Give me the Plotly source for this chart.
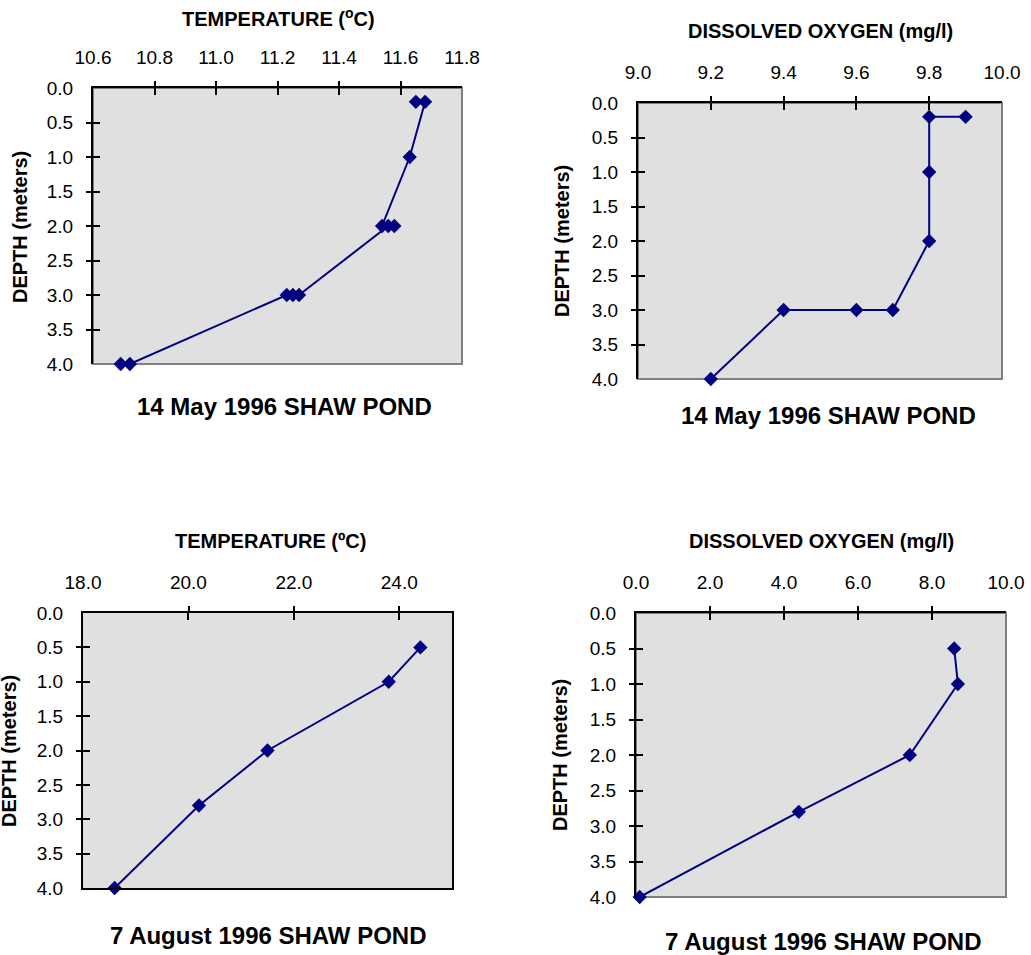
import plotly.graph_objects as go

W, H = 1031, 955

# ---- data ----
may_temp_depth = [0.2, 0.2, 1.0, 2.0, 2.0, 2.0, 3.0, 3.0, 3.0, 4.0, 4.0]
may_temp = [11.65, 11.68, 11.63, 11.54, 11.58, 11.56, 11.27, 11.25, 11.23, 10.72, 10.69]

may_do_depth = [0.2, 0.2, 1.0, 2.0, 3.0, 3.0, 3.0, 4.0]
may_do = [9.9, 9.8, 9.8, 9.8, 9.7, 9.6, 9.4, 9.2]

aug_temp_depth = [0.5, 1.0, 2.0, 2.8, 4.0]
aug_temp = [24.4, 23.8, 21.5, 20.2, 18.6]

aug_do_depth = [0.5, 1.0, 2.0, 2.8, 4.0]
aug_do = [8.6, 8.7, 7.4, 4.4, 0.1]

chart_titles = ["14 May 1996 SHAW POND", "14 May 1996 SHAW POND",
                "7 August 1996 SHAW POND", "7 August 1996 SHAW POND"]
x_titles = ["TEMPERATURE (<sup>o</sup>C)", "DISSOLVED OXYGEN (mg/l)",
            "TEMPERATURE (ºC)", "DISSOLVED OXYGEN (mg/l)"]
y_title = "DEPTH (meters)"

NAVY = "#000080"
FONT = "Liberation Sans, Arial, sans-serif"

def px(x):
    return x / W

def py(y):
    return 1 - y / H

# plot areas in pixels: (left, right, top, bottom)
areas = [(93, 462, 88, 364), (638, 1002, 103, 379), (83, 452, 613, 888), (636, 1006, 613, 897)]
xranges = [[10.6, 11.8], [9.0, 10.0], [18.0, 25.0], [0.0, 10.0]]
xdticks = [0.2, 0.2, 2.0, 2.0]
series = [(may_temp, may_temp_depth), (may_do, may_do_depth),
          (aug_temp, aug_temp_depth), (aug_do, aug_do_depth)]

fig = go.Figure()
layout = dict(
    width=W, height=H, margin=dict(l=0, r=0, t=0, b=0, autoexpand=False),
    paper_bgcolor="white", plot_bgcolor="#E0E0E0",
    showlegend=False, font=dict(family=FONT, color="black"),
    annotations=[], shapes=[],
)

for i, ((l, r, t, b), xr, dt, (xs, ys)) in enumerate(zip(areas, xranges, xdticks, series)):
    n = i + 1
    xa = "x" if n == 1 else f"x{n}"
    ya = "y" if n == 1 else f"y{n}"
    fig.add_trace(go.Scatter(
        x=xs, y=ys, mode="lines+markers", xaxis=xa, yaxis=ya,
        line=dict(color=NAVY, width=2),
        marker=dict(symbol="diamond", size=11, color=NAVY),
        cliponaxis=False, hoverinfo="skip",
    ))
    mirror = (n == 3)
    nxt = int(round((xr[1] - xr[0]) / dt))
    xt = [xr[0] + k * dt for k in range(nxt + 1)]
    yt = [k * 0.5 for k in range(9)]
    ex = dt * 1e-3
    layout[f"xaxis{'' if n == 1 else n}"] = dict(
        domain=[px(l), px(r)], range=xr, side="top", anchor=ya, automargin=False,
        tickmode="array", tickvals=xt, ticktext=[f"{v:.1f}" for v in xt],
        ticks="inside", ticklen=7, tickwidth=2, tickcolor="black",
        minor=dict(tickmode="array", tickvals=[v + ex for v in xt],
                   ticks="outside", ticklen=5, tickwidth=2, tickcolor="black"),
        showline=True, linecolor="black", linewidth=2, mirror=mirror,
        showgrid=False, zeroline=False, fixedrange=True,
        tickfont=dict(size=19, family=FONT), ticklabelstandoff=14,
    )
    layout[f"yaxis{'' if n == 1 else n}"] = dict(
        domain=[py(b), py(t)], range=[4, 0], anchor=xa, automargin=False,
        tickmode="array", tickvals=yt, ticktext=[f"{v:.1f}" for v in yt],
        ticks="inside", ticklen=7, tickwidth=2, tickcolor="black",
        minor=dict(tickmode="array", tickvals=[v + 5e-4 for v in yt],
                   ticks="outside", ticklen=5, tickwidth=2, tickcolor="black"),
        showline=True, linecolor="black", linewidth=2, mirror=mirror,
        showgrid=False, zeroline=False, fixedrange=True,
        tickfont=dict(size=19, family=FONT), ticklabelstandoff=14,
    )
    if not mirror:
        layout["shapes"].append(dict(
            type="rect", xref=f"{xa} domain", yref=f"{ya} domain",
            x0=0, x1=1, y0=0, y1=1, line=dict(color="#808080", width=2),
            layer="below",
        ))

chart_title_pos = [(284, 406), (828, 415), (268, 935), (823, 941)]
x_title_pos = [(278, 18), (820, 31), (270, 541), (821, 541)]
y_title_pos = [(20, 227), (562, 241), (9, 751), (560, 755)]

for i in range(4):
    cx, cy = chart_title_pos[i]
    layout["annotations"].append(dict(
        text=f"<b>{chart_titles[i]}</b>", x=px(cx), y=py(cy), xref="paper", yref="paper",
        showarrow=False, xanchor="center", yanchor="middle",
        font=dict(size=24, family=FONT, color="black")))
    ax, ay = x_title_pos[i]
    layout["annotations"].append(dict(
        text=f"<b>{x_titles[i]}</b>", x=px(ax), y=py(ay), xref="paper", yref="paper",
        showarrow=False, xanchor="center", yanchor="middle",
        font=dict(size=20, family=FONT, color="black")))
    tx, ty = y_title_pos[i]
    layout["annotations"].append(dict(
        text=f"<b>{y_title}</b>", x=px(tx), y=py(ty), xref="paper", yref="paper",
        showarrow=False, xanchor="center", yanchor="middle", textangle=-90,
        font=dict(size=20, family=FONT, color="black")))

fig.update_layout(**layout)
fig.write_html("out.html", config={"displayModeBar": False},
               post_script="document.body.style.margin='0';document.body.style.overflow='hidden';")
